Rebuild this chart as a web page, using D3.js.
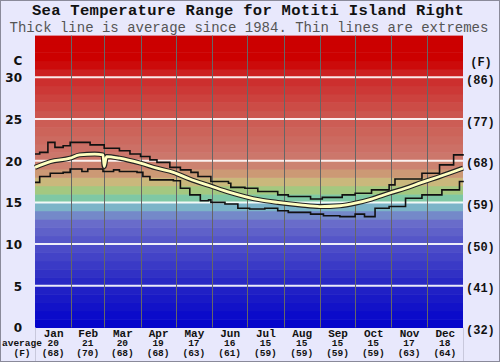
<!DOCTYPE html>
<html><head><meta charset="utf-8">
<script src="https://cdn.jsdelivr.net/npm/d3@7"></script>
<style>
html,body{margin:0;padding:0;background:#e8e8fc;}
svg{display:block;}
</style></head>
<body>
<svg id="chart" width="500" height="362"></svg>
<script>
const months = ["Jan","Feb","Mar","Apr","May","Jun","Jul","Aug","Sep","Oct","Nov","Dec"];
const monthDays = [31,28,31,30,31,30,31,31,30,31,30,31];
const avgC = [20,21,20,19,17,16,15,15,15,15,17,18];
const avgF = [68,70,68,68,63,61,59,59,59,59,63,64];
const cTicks = [0,5,10,15,20,25,30];
const fLabels = ["(32)","(41)","(50)","(59)","(68)","(77)","(86)"];

// extremes and average, day of year -> temperature (C)
const maxDay  = [0,4,11,17,24,30,47,59,72,81,90,98,104,115,124,133,139,150,165,167,179,190,207,216,235,245,262,273,287,302,307,330,345,357,365];
const maxTemp = [20.8,21.0,22.2,21.6,21.8,22.2,21.9,21.5,21.2,20.8,20.5,20.1,19.8,19.2,18.9,18.6,18.1,17.5,17.3,16.8,16.7,16.3,15.9,15.7,15.4,15.6,15.9,16.1,16.5,17.1,17.8,18.5,19.5,20.7,20.8];
const avgDay  = [0,13,30,38,51,58,59,61,72,90,104,118,132,149,166,179,192,207,226,243,260,273,287,302,316,330,345,365];
const avgTemp = [19.2,19.9,20.3,20.7,20.8,20.7,19.3,20.5,20.3,19.7,19.1,18.6,17.8,17.0,16.2,15.7,15.3,15.0,14.7,14.5,14.6,14.9,15.4,16.1,16.7,17.4,18.1,19.1];
const minDay  = [0,4,13,24,30,40,45,58,67,72,87,92,98,118,124,132,141,148,150,162,173,183,196,207,216,235,246,260,273,281,290,302,316,330,347,362,365];
const minTemp = [17.4,18.1,18.5,18.6,19.0,18.7,19.0,18.7,18.9,18.7,18.6,18.1,17.7,17.6,16.7,15.9,15.2,15.3,15.0,14.8,14.3,14.2,14.3,14.0,13.8,13.6,13.4,13.3,13.6,13.3,14.3,14.5,15.5,15.9,16.5,17.5,17.6];

const svg = d3.select("#chart");
const L = 35, R = 463, T = 35.6, B = 327.5;
const x = d3.scaleLinear().domain([0,365]).range([L,R]);
const y = d3.scaleLinear().domain([0,35]).range([B,T]);
const mono = "'Liberation Mono','Courier New',monospace";

// frame
svg.append("rect").attr("x",0.5).attr("y",0.5).attr("width",499).attr("height",361)
  .attr("fill","#e8e8fc").attr("stroke","#8a8a9a");

// title
svg.append("text").attr("x",248).attr("y",15).attr("text-anchor","middle")
  .attr("font-family",mono).attr("font-weight","bold").attr("font-size",15.5).attr("letter-spacing",0.3).attr("fill","#111")
  .text("Sea Temperature Range for Motiti Island Right");
svg.append("text").attr("x",249).attr("y",31.5).attr("text-anchor","middle")
  .attr("font-family",mono).attr("font-size",14).attr("fill","#555")
  .text("Thick line is average since 1984. Thin lines are extremes");

// colour bands, 1 degree each
const bandColor = d3.scaleLinear()
  .domain([0,5,10,13,14,15,16,17,18,19,20,25,30,32,35])
  .range(["#0000cc","#2424c4","#5050c8","#6e72ca","#7aa0c8","#7ec8c8","#80c880","#c8c880","#cca878","#cc8a72","#cc7a6e","#cc5a52","#cc2a2a","#cc0000","#cc0000"])
  .interpolate(d3.interpolateRgb);
const bands = d3.range(0,35);
svg.append("g").selectAll("rect").data(bands).join("rect")
  .attr("x",L).attr("width",R-L)
  .attr("y",d=>y(d+1)).attr("height",d=>y(d)-y(d+1)+0.5)
  .attr("fill",d=>bandColor(d+0.5));

// horizontal white gridlines
svg.append("g").selectAll("line").data(cTicks.filter(d=>d>0)).join("line")
  .attr("x1",L).attr("x2",R).attr("y1",d=>y(d)).attr("y2",d=>y(d))
  .attr("stroke","#fff").attr("stroke-width",2).attr("opacity",0.9);

// month boundaries
const starts = d3.cumsum(monthDays).slice(0,11);
svg.append("g").selectAll("line").data(starts).join("line")
  .attr("x1",d=>Math.round(x(d))+0.5).attr("x2",d=>Math.round(x(d))+0.5).attr("y1",T).attr("y2",B)
  .attr("stroke","#666").attr("stroke-width",1);

// faint separators below plot
svg.append("g").selectAll("line").data([L,R]).join("line")
  .attr("x1",d=>d+0.5).attr("x2",d=>d+0.5).attr("y1",B).attr("y2",361)
  .attr("stroke","#c8c8dc").attr("stroke-width",1);

// lines
const stepLine = d3.line().x(d=>x(d[0])).y(d=>y(d[1])).curve(d3.curveStepAfter);
const smooth = d3.line().x(d=>x(d[0])).y(d=>y(d[1])).curve(d3.curveMonotoneX);
const maxPts = maxDay.map((d,i)=>[d,maxTemp[i]]);
const minPts = minDay.map((d,i)=>[d,minTemp[i]]);
const avgPts = avgDay.map((d,i)=>[d,avgTemp[i]]);
svg.append("path").attr("d",stepLine(maxPts)).attr("fill","none").attr("stroke","#111").attr("stroke-width",1.6);
svg.append("path").attr("d",stepLine(minPts)).attr("fill","none").attr("stroke","#111").attr("stroke-width",1.6);
svg.append("path").attr("d",smooth(avgPts)).attr("fill","none").attr("stroke","#222").attr("stroke-width",5).attr("stroke-linejoin","round");
svg.append("path").attr("d",smooth(avgPts)).attr("fill","none").attr("stroke","#ffffc0").attr("stroke-width",2.8).attr("stroke-linejoin","round");

// left axis (C)
const ax = svg.append("g").attr("transform",`translate(${L},0)`)
  .call(d3.axisLeft(y).tickValues(cTicks).tickSize(0).tickPadding(13).tickFormat(d3.format("d")));
ax.select(".domain").remove();
ax.selectAll("text").attr("font-family","'DejaVu Sans',Verdana,sans-serif").attr("font-weight","bold").attr("font-size",12).attr("fill","#111").attr("dy","0.36em");
svg.append("text").attr("x",18).attr("y",61).attr("text-anchor","middle").attr("dy","0.36em")
  .attr("font-family","'DejaVu Sans',Verdana,sans-serif").attr("font-weight","bold").attr("font-size",12).attr("fill","#111").text("C");

// right axis (F)
const ar = svg.append("g").attr("transform",`translate(${R},0)`)
  .call(d3.axisRight(y).tickValues(cTicks).tickSize(0).tickPadding(3).tickFormat((d,i)=>fLabels[i]));
ar.select(".domain").remove();
ar.selectAll("text").attr("font-family",mono).attr("font-weight","bold").attr("font-size",12).attr("fill","#111").attr("dy","0.5em");
svg.append("text").attr("x",481).attr("y",62).attr("text-anchor","middle").attr("dy","0.36em")
  .attr("font-family",mono).attr("font-weight","bold").attr("font-size",12).attr("fill","#111").text("(F)");

// bottom axis: months
const mids = monthDays.map((d,i)=>d3.sum(monthDays.slice(0,i)) + d/2);
const ab = svg.append("g").attr("transform",`translate(0,${B})`)
  .call(d3.axisBottom(x).tickValues(mids).tickSize(0).tickPadding(0).tickFormat((d,i)=>months[i]));
ab.select(".domain").remove();
ab.selectAll("text").attr("font-family",mono).attr("font-weight","bold").attr("font-size",11).attr("fill","#111")
  .attr("dy",null).attr("y",9);

// averages row
const rowC = svg.append("g");
rowC.selectAll("text").data(avgC).join("text")
  .attr("x",(d,i)=>x(mids[i])).attr("y",346).attr("text-anchor","middle")
  .attr("font-family",mono).attr("font-weight","bold").attr("font-size",9.5).attr("fill","#111").text(d=>d);
const rowF = svg.append("g");
rowF.selectAll("text").data(avgF).join("text")
  .attr("x",(d,i)=>x(mids[i])).attr("y",355.5).attr("text-anchor","middle")
  .attr("font-family",mono).attr("font-weight","bold").attr("font-size",9.5).attr("fill","#111").text(d=>"("+d+")");
svg.append("text").attr("x",2).attr("y",346).attr("font-family",mono).attr("font-weight","bold").attr("font-size",9.5).attr("fill","#111").text("average");
svg.append("text").attr("x",22).attr("y",355.5).attr("text-anchor","middle").attr("font-family",mono).attr("font-weight","bold").attr("font-size",9.5).attr("fill","#111").text("(F)");
</script>
</body></html>
